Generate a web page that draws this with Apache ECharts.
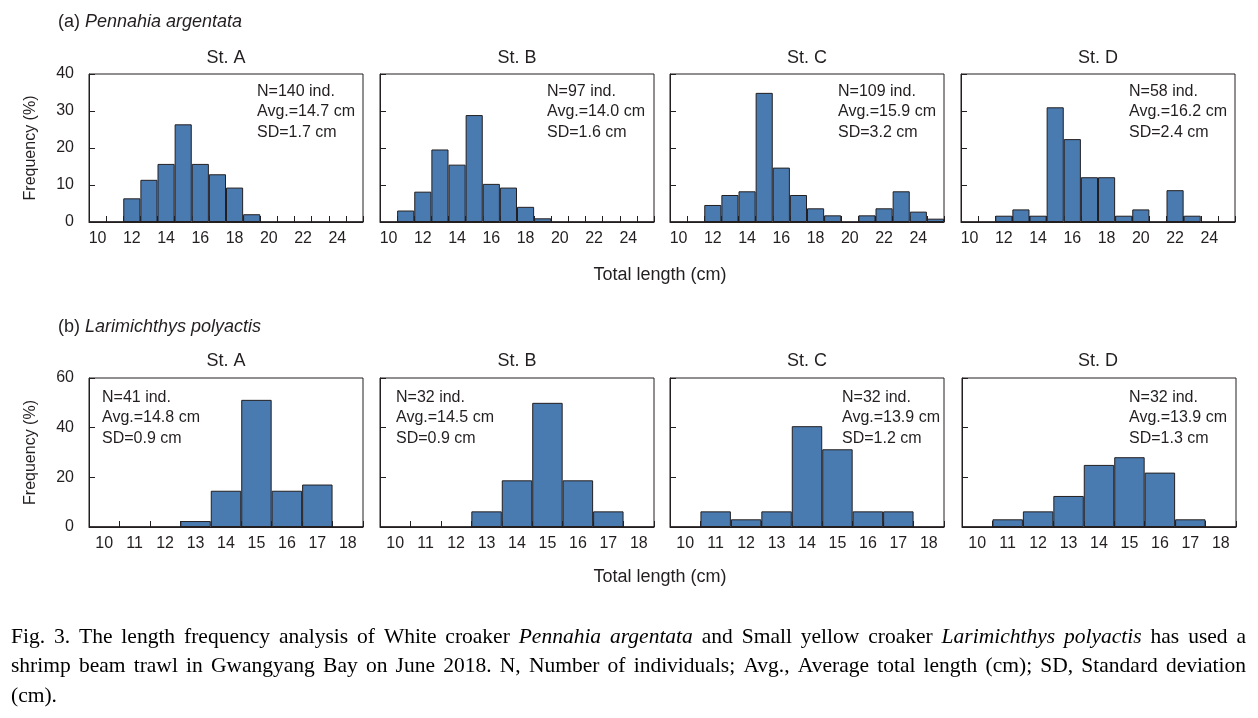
<!DOCTYPE html>
<html>
<head>
<meta charset="utf-8">
<script src="https://cdn.jsdelivr.net/npm/echarts@6/dist/echarts.min.js"></script>
<style>
html,body{margin:0;padding:0;background:#fff;}
#main{width:1258px;height:718px;}
</style>
</head>
<body>
<div id="main"></div>
<script>
// ---- Data ----
const catsTop = ['10','11','12','13','14','15','16','17','18','19','20','21','22','23','24','25'];
const catsBottom = ['10','11','12','13','14','15','16','17','18'];
const stations = ['St. A','St. B','St. C','St. D'];

// (a) Pennahia argentata, frequency (%)
const pennA = [0,0,6.4,11.4,15.7,26.4,15.7,12.9,9.3,2.1,0,0,0,0,0,0];
const pennB = [0,3.1,8.2,19.6,15.5,28.9,10.3,9.3,4.1,1.0,0,0,0,0,0,0];
const pennC = [0,0,4.6,7.3,8.3,34.9,14.7,7.3,3.7,1.8,0,1.8,3.7,8.3,2.8,0.9];
const pennD = [0,0,1.7,3.4,1.7,31.0,22.4,12.1,12.1,1.7,3.4,0,8.6,1.7,0,0];
const pennN = [140,97,109,58];
const pennAvg = ['14.7','14.0','15.9','16.2'];
const pennSD = ['1.7','1.6','3.2','2.4'];

// (b) Larimichthys polyactis, frequency (%)
const lariA = [0,0,0,2.4,14.6,51.2,14.6,17.1,0];
const lariB = [0,0,0,6.3,18.8,50.0,18.8,6.3,0];
const lariC = [0,6.3,3.1,6.3,40.6,31.3,6.3,6.3,0];
const lariD = [0,3.1,6.3,12.5,25.0,28.1,21.9,3.1,0];
const lariN = [41,32,32,32];
const lariAvg = ['14.8','14.5','13.9','13.9'];
const lariSD = ['0.9','0.9','1.2','1.3'];

const topTicks = [0,10,20,30,40];
const bottomTicks = [0,20,40,60];

// ---- Layout ----
const SANS = '"Liberation Sans", Arial, sans-serif';
const SERIF = '"Liberation Serif", "Times New Roman", serif';
const INK = '#231f20';
const BAR = '#4a7bb0';
const lefts = [89, 380, 670, 961];
const W = 274;
const topRow = {top: 74, height: 148};
const botRow = {top: 378, height: 149};

const grids = [], xAxes = [], yAxes = [], series = [];
const pennData = [pennA, pennB, pennC, pennD];
const lariData = [lariA, lariB, lariC, lariD];

function addPanel(idx, left, row, cats, data, ticks, labelInterval, showY) {
  grids.push({left: left, top: row.top, width: W, height: row.height, show: true,
    borderColor: INK, borderWidth: 1, backgroundColor: 'transparent', containLabel: false});
  xAxes.push({type: 'category', gridIndex: idx, data: cats,
    boundaryGap: true,
    axisLine: {show: true, lineStyle: {color: INK, width: 1}},
    axisTick: {show: true, inside: true, length: 6, interval: 0, lineStyle: {color: INK}},
    axisLabel: {interval: labelInterval, color: INK, fontFamily: SANS, fontSize: 16, margin: 9},
    splitLine: {show: false}});
  yAxes.push({type: 'value', gridIndex: idx, min: ticks[0], max: ticks[ticks.length-1],
    interval: ticks[1]-ticks[0],
    axisLine: {show: true, lineStyle: {color: INK, width: 1}},
    axisTick: {show: true, inside: true, length: 6, lineStyle: {color: INK}},
    axisLabel: {show: showY, color: INK, fontFamily: SANS, fontSize: 16, margin: 15},
    splitLine: {show: false},
    name: showY ? 'Frequency (%)' : '', nameLocation: 'middle', nameGap: 50, nameRotate: 90,
    nameTextStyle: {color: INK, fontFamily: SANS, fontSize: 16}});
  series.push({type: 'bar', xAxisIndex: idx, yAxisIndex: idx, data: data,
    barCategoryGap: '0%', barGap: '0%',
    itemStyle: {color: BAR, borderColor: INK, borderWidth: 1},
    silent: true, animation: false});
}

for (let i = 0; i < 4; i++) addPanel(i, lefts[i], topRow, catsTop, pennData[i], topTicks, 1, i === 0);
for (let i = 0; i < 4; i++) addPanel(4+i, lefts[i] + (i===3?1:0), botRow, catsBottom, lariData[i], bottomTicks, 0, i === 0);

// ---- Text graphics ----
const graphic = [];
function txt(x, y, text, opts) {
  graphic.push(Object.assign({type: 'text', x: x, y: y, silent: true,
    style: Object.assign({text: text, fill: INK, font: '16px ' + SANS, textAlign: 'left', textVerticalAlign: 'middle'}, opts || {})}));
}
// species headers
graphic.push({type: 'text', x: 58, y: 22, silent: true, style: {
  text: '(a) {i|Pennahia argentata}', fill: INK, font: '18px ' + SANS, textVerticalAlign: 'middle',
  rich: {i: {fontStyle: 'italic', fontFamily: SANS, fontSize: 18, fill: INK}}}});
graphic.push({type: 'text', x: 58, y: 327, silent: true, style: {
  text: '(b) {i|Larimichthys polyactis}', fill: INK, font: '18px ' + SANS, textVerticalAlign: 'middle',
  rich: {i: {fontStyle: 'italic', fontFamily: SANS, fontSize: 18, fill: INK}}}});
// station titles
for (let i = 0; i < 4; i++) {
  txt(lefts[i] + W/2, 58, stations[i], {font: '18px ' + SANS, textAlign: 'center'});
  txt(lefts[i] + W/2, 361, stations[i], {font: '18px ' + SANS, textAlign: 'center'});
}
// x-axis titles
txt(660, 275, 'Total length (cm)', {font: '18px ' + SANS, textAlign: 'center'});
txt(660, 577, 'Total length (cm)', {font: '18px ' + SANS, textAlign: 'center'});
// stats annotations
const statTopX = [257, 547, 838, 1129];
const statBotX = [102, 396, 842, 1129];
for (let i = 0; i < 4; i++) {
  const s1 = 'N=' + pennN[i] + ' ind.\nAvg.=' + pennAvg[i] + ' cm\nSD=' + pennSD[i] + ' cm';
  graphic.push({type: 'text', x: statTopX[i], y: 81, silent: true,
    style: {text: s1, fill: INK, font: '16px ' + SANS, lineHeight: 20.7, textVerticalAlign: 'top'}});
  const s2 = 'N=' + lariN[i] + ' ind.\nAvg.=' + lariAvg[i] + ' cm\nSD=' + lariSD[i] + ' cm';
  graphic.push({type: 'text', x: statBotX[i], y: 387, silent: true,
    style: {text: s2, fill: INK, font: '16px ' + SANS, lineHeight: 20.7, textVerticalAlign: 'top'}});
}

// ---- Caption (justified) ----
const capLines = [
  [['Fig. 3. The length frequency analysis of White croaker', false], ['Pennahia argentata', true],
   ['and Small yellow croaker', false], ['Larimichthys polyactis', true], ['has used a', false]],
  [['shrimp beam trawl in Gwangyang Bay on June 2018. N, Number of individuals; Avg., Average total length (cm); SD, Standard deviation', false]],
  [['(cm).', false]]
];
const capY = [637, 666, 696];
const capX0 = 11, capX1 = 1246;
const cv = document.createElement('canvas').getContext('2d');
function fontFor(it) { return (it ? 'italic ' : '') + '21.5px ' + SERIF; }
capLines.forEach(function (line, li) {
  const words = [];
  line.forEach(function (seg) { seg[0].split(' ').forEach(function (w) { words.push([w, seg[1]]); }); });
  const widths = words.map(function (w) { cv.font = fontFor(w[1]); return cv.measureText(w[0]).width; });
  const total = widths.reduce(function (a, b) { return a + b; }, 0);
  const justify = li < capLines.length - 1;
  cv.font = fontFor(false);
  const gap = justify ? (capX1 - capX0 - total) / (words.length - 1) : cv.measureText(' ').width;
  let x = capX0;
  words.forEach(function (w, k) {
    graphic.push({type: 'text', x: x, y: capY[li], silent: true,
      style: {text: w[0], fill: '#000', font: fontFor(w[1]), textVerticalAlign: 'middle'}});
    x += widths[k] + gap;
  });
});

const chart = echarts.init(document.getElementById('main'), null, {renderer: 'canvas'});
chart.setOption({
  animation: false,
  backgroundColor: '#fff',
  grid: grids, xAxis: xAxes, yAxis: yAxes, series: series, graphic: graphic
});
</script>
</body>
</html>
